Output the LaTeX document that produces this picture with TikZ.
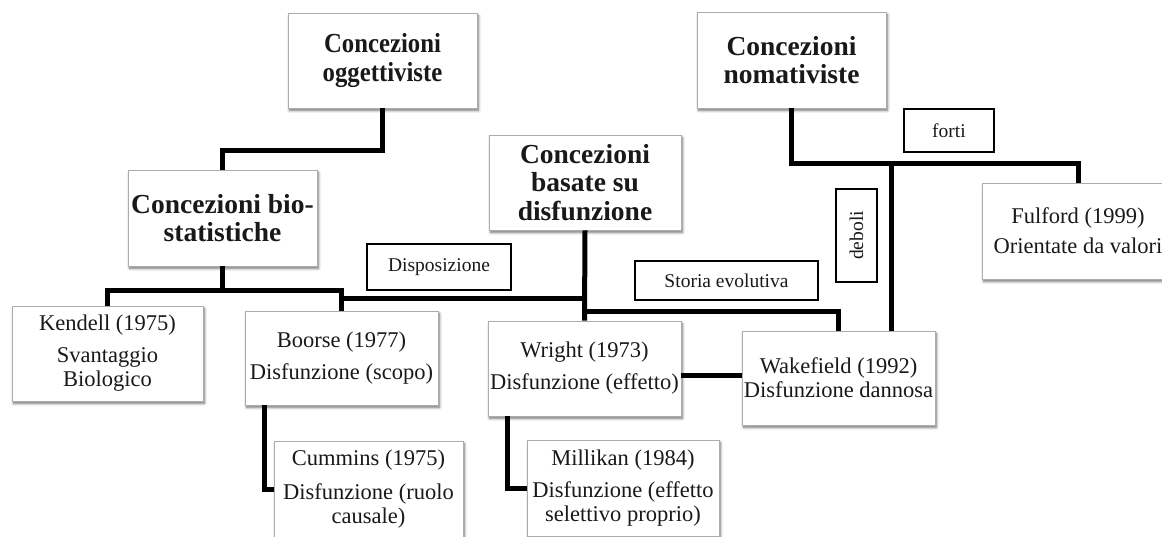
\documentclass[tikz,border=0pt]{standalone}
\usepackage{fontspec}
\setmainfont{Liberation Serif}
\usepackage{graphicx}
\usetikzlibrary{shadows.blur,calc}
\tikzset{
  mainbox/.style={draw=gray!65, line width=0.8pt, fill=white, align=center, inner sep=0pt,
    text=black!90, blur shadow={shadow xshift=1.5pt, shadow yshift=-2.5pt,
    shadow blur steps=6, shadow blur radius=2.5pt, shadow opacity=55}},
  titletext/.style={font=\bfseries\fontsize{27.5}{28.5}\selectfont},
  bodytext/.style={font=\fontsize{22.5}{24}\selectfont},
  labelbox/.style={draw=black, line width=1.6pt, fill=white, inner sep=0pt,
    font=\fontsize{19.5}{22}\selectfont, text=black!90},
  conn/.style={line width=5pt, line join=miter, draw=black},
}
\begin{document}
\begin{tikzpicture}[x=1pt,y=-1pt]
\useasboundingbox (0,0) rectangle (1162,536);
% main boxes
\node[mainbox,titletext,minimum width=189pt,minimum height=95pt] (ogg) at (382.5,60.5)
  {\scalebox{0.9}[1]{Concezioni}\\\scalebox{0.9}[1]{oggettiviste}};
\node[mainbox,titletext,minimum width=189pt,minimum height=96pt] (nom) at (791.5,60)
  {Concezioni\\nomativiste};
\node[mainbox,titletext,minimum width=189pt,minimum height=96pt] (bio) at (222.5,218)
  {Concezioni bio-\\statistiche};
\node[mainbox,titletext,minimum width=192pt,minimum height=95pt] (bas) at (585,182.5)
  {Concezioni\\basate su\\disfunzione};
\node[mainbox,bodytext,minimum width=191pt,minimum height=95pt] (kend) at (107.5,353.5)
  {Kendell (1975)\\[8pt]Svantaggio\\Biologico};
\node[mainbox,bodytext,minimum width=193pt,minimum height=94pt] (boor) at (341.5,358)
  {Boorse (1977)\\[8pt]Disfunzione (scopo)};
\node[mainbox,bodytext,minimum width=193pt,minimum height=95pt] (wri) at (584.5,368.5)
  {Wright (1973)\\[8pt]Disfunzione (effetto)};
\node[mainbox,bodytext,minimum width=193pt,minimum height=94pt] (wak) at (838.5,378)
  {Wakefield (1992)\\Disfunzione dannosa};
\node[mainbox,bodytext,minimum width=192pt,minimum height=96pt] (ful) at (1078,231)
  {Fulford (1999)\\[6pt]Orientate da valori};
\node[mainbox,bodytext,minimum width=189pt,minimum height=97pt] (cum) at (368.5,489.5)
  {Cummins (1975)\\[10pt]Disfunzione (ruolo\\causale)};
\node[mainbox,bodytext,minimum width=192pt,minimum height=96pt] (mil) at (623,488)
  {Millikan (1984)\\[8pt]Disfunzione (effetto\\selettivo proprio)};
% label boxes
\node[labelbox,minimum width=144pt,minimum height=46pt] (disp) at (439,267) {Disposizione};
\node[labelbox,minimum width=183pt,minimum height=39pt] (sto) at (726.5,280.5) {Storia evolutiva};
\node[labelbox,minimum width=90pt,minimum height=43pt] (fort) at (949,130.5) {forti};
\node[labelbox,minimum width=93pt,minimum height=41pt,rotate=90] (deb) at (856.5,235.5) {deboli};
% junction coordinates
\coordinate (j1) at (222.5,290);
\coordinate (j2) at (341.5,290);
\coordinate (j3) at (341.5,298);
\coordinate (j4) at (585,311);
\coordinate (j5) at (700,375);
\coordinate (j6) at (891,163);
% connectors
\draw[conn] (ogg.south) -- ++(0,42) -| (bio.north);
\draw[conn] (bio.south) -- (j1);
\draw[conn] (kend.north) |- (j2) -- (boor.north);
\draw[conn] (j3) -- (bas.south |- j3);
\draw[conn] (bas.south) -- (wri.north);
\draw[conn] (j4) -| (wak.north);
\draw[conn] (wri.east |- j5) -- (wak.west |- j5);
\draw[conn] ([xshift=20pt]boor.south west) |- (cum.west);
\draw[conn] ([xshift=20pt]wri.south west) |- (mil.west);
\draw[conn] (nom.south) -- ++(0,55) -| (ful.north);
\draw[conn] (j6) -- (j6 |- wak.north);
\end{tikzpicture}
\end{document}
